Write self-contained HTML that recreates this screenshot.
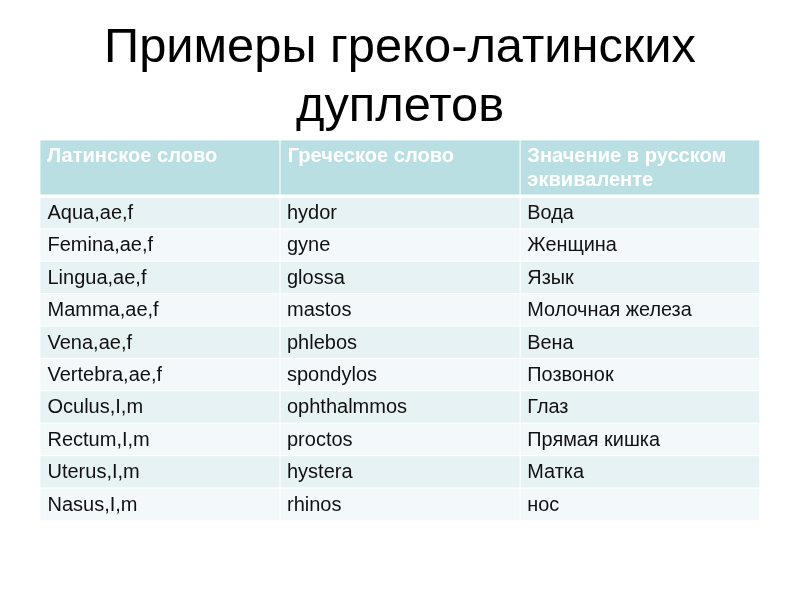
<!DOCTYPE html>
<html lang="ru">
<head>
<meta charset="utf-8">
<title>Примеры греко-латинских дуплетов</title>
<style>
html,body{margin:0;padding:0;}
body{width:800px;height:600px;background:#fff;position:relative;overflow:hidden;font-family:"Liberation Sans",sans-serif;color:#000;}
h1{position:absolute;left:0;top:16px;width:800px;margin:0;text-align:center;font-weight:normal;font-size:48.8px;line-height:58.67px;white-space:nowrap;}
svg.bg{position:absolute;left:0;top:0;width:800px;height:600px;}
table{position:absolute;left:40px;top:140px;width:720px;border-collapse:collapse;border-spacing:0;table-layout:fixed;font-size:20px;}
th,td{box-sizing:border-box;width:240px;padding:0 0 0 7.5px;text-align:left;vertical-align:top;line-height:24px;overflow:visible;white-space:nowrap;}
th{color:#fff;font-weight:bold;font-size:20.1px;height:56px;padding-top:3px;white-space:normal;}
td{height:32px;padding-top:4px;color:#111;}
td+td{padding-left:7.0px;}
th{padding-left:6.9px;}
th+th{padding-left:7.7px;}
th+th+th{padding-left:7.3px;}
td+td+td{padding-left:7.3px;font-size:19.87px;}
tbody tr:nth-child(2) td,tbody tr:nth-child(4) td,tbody tr:nth-child(7) td,tbody tr:nth-child(9) td{height:33px;}
</style>
</head>
<body>
<h1>Примеры греко-латинских<br>дуплетов</h1>
<svg class="bg" viewBox="0 0 800 600" aria-hidden="true">
<rect x="40.40" y="140.40" width="239.04" height="54.13" fill="#b9dfe2"/>
<rect x="280.56" y="140.40" width="238.99" height="54.13" fill="#b9dfe2"/>
<rect x="520.65" y="140.40" width="238.64" height="54.13" fill="#b9dfe2"/>
<rect x="40.40" y="197.86" width="239.04" height="30.38" fill="#e6f2f3"/>
<rect x="280.56" y="197.86" width="238.99" height="30.38" fill="#e6f2f3"/>
<rect x="520.65" y="197.86" width="238.64" height="30.38" fill="#e6f2f3"/>
<rect x="40.40" y="229.36" width="239.04" height="31.29" fill="#f3f8fa"/>
<rect x="280.56" y="229.36" width="238.99" height="31.29" fill="#f3f8fa"/>
<rect x="520.65" y="229.36" width="238.64" height="31.29" fill="#f3f8fa"/>
<rect x="40.40" y="261.75" width="239.04" height="31.29" fill="#e6f2f3"/>
<rect x="280.56" y="261.75" width="238.99" height="31.29" fill="#e6f2f3"/>
<rect x="520.65" y="261.75" width="238.64" height="31.29" fill="#e6f2f3"/>
<rect x="40.40" y="294.16" width="239.04" height="31.29" fill="#f3f8fa"/>
<rect x="280.56" y="294.16" width="238.99" height="31.29" fill="#f3f8fa"/>
<rect x="520.65" y="294.16" width="238.64" height="31.29" fill="#f3f8fa"/>
<rect x="40.40" y="326.56" width="239.04" height="31.29" fill="#e6f2f3"/>
<rect x="280.56" y="326.56" width="238.99" height="31.29" fill="#e6f2f3"/>
<rect x="520.65" y="326.56" width="238.64" height="31.29" fill="#e6f2f3"/>
<rect x="40.40" y="358.95" width="239.04" height="31.29" fill="#f3f8fa"/>
<rect x="280.56" y="358.95" width="238.99" height="31.29" fill="#f3f8fa"/>
<rect x="520.65" y="358.95" width="238.64" height="31.29" fill="#f3f8fa"/>
<rect x="40.40" y="391.35" width="239.04" height="31.29" fill="#e6f2f3"/>
<rect x="280.56" y="391.35" width="238.99" height="31.29" fill="#e6f2f3"/>
<rect x="520.65" y="391.35" width="238.64" height="31.29" fill="#e6f2f3"/>
<rect x="40.40" y="423.75" width="239.04" height="31.29" fill="#f3f8fa"/>
<rect x="280.56" y="423.75" width="238.99" height="31.29" fill="#f3f8fa"/>
<rect x="520.65" y="423.75" width="238.64" height="31.29" fill="#f3f8fa"/>
<rect x="40.40" y="456.16" width="239.04" height="31.29" fill="#e6f2f3"/>
<rect x="280.56" y="456.16" width="238.99" height="31.29" fill="#e6f2f3"/>
<rect x="520.65" y="456.16" width="238.64" height="31.29" fill="#e6f2f3"/>
<rect x="40.40" y="488.56" width="239.04" height="31.74" fill="#f3f8fa"/>
<rect x="280.56" y="488.56" width="238.99" height="31.74" fill="#f3f8fa"/>
<rect x="520.65" y="488.56" width="238.64" height="31.74" fill="#f3f8fa"/>
</svg>
<table>
<thead><tr><th>Латинское слово</th><th>Греческое слово</th><th>Значение в русском<br>эквиваленте</th></tr></thead>
<tbody>
<tr><td>Aqua,ae,f</td><td>hydor</td><td>Вода</td></tr>
<tr><td>Femina,ae,f</td><td>gyne</td><td>Женщина</td></tr>
<tr><td>Lingua,ae,f</td><td>glossa</td><td>Язык</td></tr>
<tr><td>Mamma,ae,f</td><td>mastos</td><td>Молочная железа</td></tr>
<tr><td>Vena,ae,f</td><td>phlebos</td><td>Вена</td></tr>
<tr><td>Vertebra,ae,f</td><td>spondylos</td><td>Позвонок</td></tr>
<tr><td>Oculus,I,m</td><td>ophthalmmos</td><td>Глаз</td></tr>
<tr><td>Rectum,I,m</td><td>proctos</td><td>Прямая кишка</td></tr>
<tr><td>Uterus,I,m</td><td>hystera</td><td>Матка</td></tr>
<tr><td>Nasus,I,m</td><td>rhinos</td><td>нос</td></tr>
</tbody>
</table>
</body>
</html>
